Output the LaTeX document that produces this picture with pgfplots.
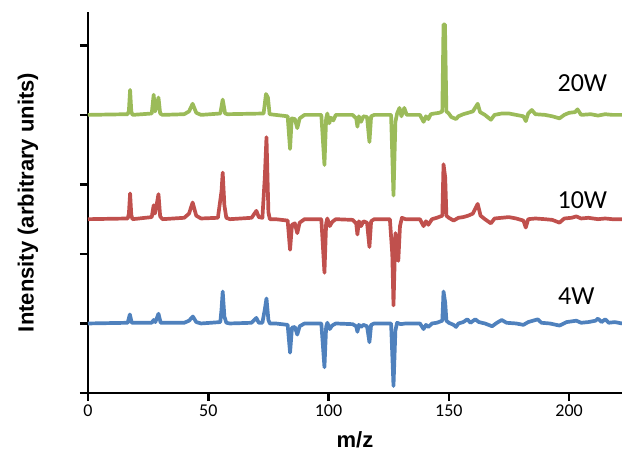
\documentclass[border=0pt]{standalone}
\usepackage{fontspec}
\setmainfont{Carlito}
\newfontfamily\arialf{Liberation Sans}
\usepackage{pgfplots}
\usepackage{pgfplotstable}
\pgfplotsset{compat=1.18}
\definecolor{cgreen}{RGB}{155,187,89}
\definecolor{cred}{RGB}{192,80,77}
\definecolor{cblue}{RGB}{79,129,189}

\pgfplotstableread{
x y
0 0
16.5 0.01
17 0.06
17.5 0.36
18 0.05
18.5 0
26.5 0.02
27.3 0.29
27.9 0.05
28.5 0.12
29.3 0.25
30 0.02
31 0
40 0.01
42 0.05
43.5 0.16
45 0.03
47 0
55 0.02
56 0.22
57 0.02
58 0.01
73 0.02
74 0.3
74.8 0.25
75.5 0.01
78 0
83 -0.02
84 -0.49
84.7 -0.05
86 -0.06
87 -0.19
88 -0.05
90 0
97 0
98.3 -0.72
99 -0.05
99.5 0.02
100.3 -0.12
101 -0.04
102 -0.08
103 0
110 0
111.5 -0.05
112 -0.17
112.6 -0.02
113.5 -0.1
114.5 -0.02
116 -0.03
117 -0.39
117.7 -0.02
119 0
126 0
127 -1.16
127.8 -0.1
128.5 0.02
129.5 0.1
130.3 -0.02
131.5 0.1
132.5 0
138 0
139.5 -0.1
140.5 -0.02
141.5 -0.06
142.5 0.01
144 0.02
146 0.03
147.3 0.05
147.8 1.3
148.4 1.3
149 0.05
150 0.02
151 -0.03
153 -0.06
154 -0.02
156 0.01
158 0.03
160 0.05
162 0.16
163 0.04
165 0
167.5 -0.07
169 0
172 0.02
175 0.02
178 0
181 -0.02
182 -0.09
183 0.02
184.5 0.07
186 0.01
190 0
193 -0.02
196 -0.05
198 0
200 0.03
202.5 0.04
203.5 0.08
205 0
209 0.01
212 -0.01
215 0.01
218 0
222 0
}\greentab

\pgfplotstableread{
x y
0 0
16.5 0.01
17 0.08
17.5 0.37
18 0.06
18.5 0
26.5 0.03
27.3 0.2
27.8 0.08
28.5 0.2
29.3 0.36
30 0.04
31 0
40 0.02
42 0.08
43.5 0.24
45 0.05
47 0.01
54 0.02
55.5 0.4
56 0.67
56.7 0.2
57.5 0.02
59 0
68 0.02
70 0.12
71 0.03
72.5 0.02
73.5 0.6
74.2 1.18
75 0.1
75.6 0
78 0
83 -0.02
84 -0.44
84.8 -0.08
86 -0.06
87 -0.2
88 -0.05
90 0
97 0
98.3 -0.77
99 -0.06
99.5 0.01
100.5 -0.1
101.5 -0.04
103 0
110 -0.01
111.5 -0.06
112 -0.22
112.6 -0.03
113.5 -0.1
114.5 -0.03
116 -0.05
117 -0.4
117.7 -0.03
119 0
125.5 0
126.5 -0.5
127 -1.24
127.8 -0.2
128.5 -0.4
129 -0.6
129.7 -0.1
130.5 0.02
132 0
138 0
139.5 -0.1
140.5 -0.03
141.5 -0.08
143 0
145 0.02
147.3 0.05
147.8 0.79
148.5 0.6
149 0.05
150 0.02
152 -0.02
154 0.02
156 0.03
158 0.05
160 0.08
162 0.22
163.2 0.05
165 0
167.5 -0.06
169 0.01
172 0.02
175 0.03
178 0.01
181 -0.02
182 -0.12
183 0
186 0.01
190 0
193 -0.01
196 -0.05
198 0.01
201 0.02
203 0.04
205 0.01
208 0.02
212 0
215 0.01
218 0
222 0
}\redtab

\pgfplotstableread{
x y
0 0
16.5 0.01
17.4 0.13
18.2 0.01
26.5 0.01
27.3 0.05
28 0.02
29.3 0.14
30.2 0.01
40 0.01
42 0.04
43.6 0.1
45 0.02
47 0
55 0.02
55.5 0.2
56 0.46
56.7 0.1
57.5 0.01
59 0
68 0.01
70 0.08
71 0.01
72.5 0.01
73.5 0.2
74.2 0.36
75 0.05
75.6 0
78 0
83 -0.02
84 -0.42
84.8 -0.06
86 -0.05
87 -0.16
88 -0.04
90 0
97 0
98.3 -0.63
99 -0.05
99.5 0.01
100.5 -0.08
101.5 -0.03
103 0
110 -0.01
111.5 -0.04
112 -0.12
112.6 -0.02
113.5 -0.05
114.5 -0.02
116 -0.04
117 -0.27
117.7 -0.02
119 0
126 0
127 -0.9
127.8 -0.1
128.5 0.01
130 -0.01
132 0
138 0
139.5 -0.08
140.5 -0.02
141.5 -0.05
143 0
145 0.01
147.3 0.04
147.8 0.46
148.5 0.3
149 0.04
150 0.01
152 -0.02
153 -0.05
154 0
156 0.02
157.7 0.06
159 0.01
161 0.06
162.5 0.02
165 0
168 -0.04
170 0.01
172 0.05
174 0.01
178 0
181 -0.02
183 0.02
187 0.06
188.5 0.01
192 0
196 -0.03
199 0.02
203 0.04
205 0.01
208 0.02
211 0.04
212 0.07
213.5 0.02
215 0.06
216.5 0.01
219 0.02
222 0
}\bluetab

\begin{document}
\begin{tikzpicture}
\begin{axis}[
  scale only axis, width=534pt, height=381pt,
  xmin=0, xmax=222, ymin=0, ymax=5.48,
  axis lines*=left,
  axis line style={line width=2.6pt, black},
  xtick={0,50,100,150,200},
  ytick={0,1,2,3,4,5}, yticklabels={},
  tick style={line width=2.6pt, black},
  tick align=outside, major tick length=8pt,
  tick label style={font=\fontsize{18}{18}\selectfont},
  /pgf/number format/assume math mode=true,
  xlabel={m/z},
  xlabel style={font=\arialf\bfseries\fontsize{22}{22}\selectfont, at={(axis description cs:0.5,-0.1234)}, anchor=center},
  ylabel={Intensity (arbitrary units)},
  ylabel style={font=\arialf\bfseries\fontsize{22}{22}\selectfont, at={(axis description cs:-0.1124,0.5)}, anchor=center},
  every axis plot/.append style={line width=3.7pt, line join=round},
]
\addplot[cgreen] table[x=x, y expr=\thisrow{y}+4] {\greentab};
\addplot[cred] table[x=x, y expr=\thisrow{y}+2.5] {\redtab};
\addplot[cblue] table[x=x, y expr=\thisrow{y}+1] {\bluetab};
\node[font=\fontsize{26}{26}\selectfont] at (axis cs:205.5,4.45) {20W};
\node[font=\fontsize{26}{26}\selectfont] at (axis cs:205.5,2.78) {10W};
\node[font=\fontsize{26}{26}\selectfont] at (axis cs:203,1.40) {4W};
\coordinate (bl) at (rel axis cs:0,0);
\coordinate (tr) at (rel axis cs:1,1);
\end{axis}
\pgfresetboundingbox
\path ([xshift=-88pt,yshift=-61pt]bl) rectangle ([yshift=12pt]tr);
\end{tikzpicture}
\end{document}
